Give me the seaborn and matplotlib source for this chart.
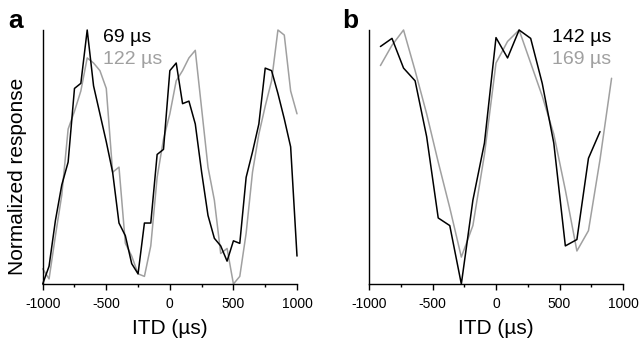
import numpy as np
import pandas as pd
import matplotlib
matplotlib.use("Agg")
import matplotlib.pyplot as plt
import seaborn as sns
from matplotlib.ticker import MultipleLocator

# ---- Panel a data (ITD step 50 us) ----
itd_a = [-1000, -950, -900, -850, -800, -750, -700, -650, -600, -550, -500,
         -450, -400, -350, -300, -250, -200, -150, -100, -50, 0,
         50, 100, 150, 200, 250, 300, 350, 400, 450, 500,
         550, 600, 650, 700, 750, 800, 850, 900, 950, 1000]
resp_a_69 = [0.00, 0.07, 0.25, 0.39, 0.48, 0.77, 0.79, 1.00, 0.78, 0.67, 0.56,
             0.44, 0.24, 0.19, 0.08, 0.04, 0.24, 0.24, 0.51, 0.53, 0.84,
             0.87, 0.71, 0.72, 0.63, 0.44, 0.27, 0.18, 0.15, 0.09, 0.17,
             0.16, 0.42, 0.52, 0.63, 0.85, 0.84, 0.75, 0.65, 0.54, 0.11]
resp_a_122 = [0.06, 0.02, 0.19, 0.35, 0.61, 0.68, 0.76, 0.89, 0.87, 0.84, 0.77,
              0.44, 0.46, 0.16, 0.11, 0.04, 0.03, 0.15, 0.42, 0.57, 0.67,
              0.80, 0.84, 0.89, 0.92, 0.69, 0.46, 0.33, 0.12, 0.14, 0.00,
              0.03, 0.20, 0.44, 0.59, 0.70, 0.80, 1.00, 0.98, 0.76, 0.67]

# ---- Panel b data (ITD step ~91 us) ----
itd_b = [-910, -819, -728, -637, -546, -455, -364, -273, -182, -91, 0,
         91, 182, 273, 364, 455, 546, 637, 728, 819, 910]
resp_b_142 = [0.935, 0.967, 0.85, 0.80, 0.58, 0.26, 0.23, 0.00, 0.33, 0.555, 0.97,
              0.89, 1.00, 0.967, 0.79, 0.555, 0.15, 0.175, 0.495, 0.60, np.nan]
resp_b_169 = [0.86, 0.94, 1.00, 0.84, 0.67, 0.48, 0.30, 0.106, 0.23, 0.51, 0.87,
              0.955, 1.00, 0.87, 0.74, 0.59, 0.37, 0.13, 0.21, 0.49, 0.81]

labels_a = ["69 µs", "122 µs"]
labels_b = ["142 µs", "169 µs"]
xticks = [-1000, -500, 0, 500, 1000]

BLACK = "#000000"
GRAY = "#a0a0a0"

sns.set_theme(style="ticks")
plt.rcParams["font.family"] = ["Liberation Sans", "DejaVu Sans"]
plt.rcParams["text.color"] = "black"
plt.rcParams["xtick.labelcolor"] = "black"

W, H = 641, 344
fig = plt.figure(figsize=(W / 100, H / 100), dpi=100)

def px_axes(l, t, r, b):
    return fig.add_axes([l / W, 1 - b / H, (r - l) / W, (b - t) / H])

ax_a = px_axes(42.7, 30, 297, 284)
ax_b = px_axes(369, 30, 623, 284)

df_a = pd.DataFrame({"itd": itd_a, "r69": resp_a_69, "r122": resp_a_122})
df_b = pd.DataFrame({"itd": itd_b, "r142": resp_b_142, "r169": resp_b_169})

sns.lineplot(data=df_a, x="itd", y="r122", ax=ax_a, color=GRAY, lw=1.1, clip_on=False)
sns.lineplot(data=df_a, x="itd", y="r69", ax=ax_a, color=BLACK, lw=1.1, clip_on=False)
sns.lineplot(data=df_b, x="itd", y="r169", ax=ax_b, color=GRAY, lw=1.1, clip_on=False)
sns.lineplot(data=df_b.dropna(), x="itd", y="r142", ax=ax_b, color=BLACK, lw=1.1, clip_on=False)

for ax in (ax_a, ax_b):
    ax.set_xlim(-1000, 1000)
    ax.set_ylim(0, 1)
    ax.set_xticks(xticks)
    ax.set_xticklabels([str(t) for t in xticks])
    ax.xaxis.set_minor_locator(MultipleLocator(250))
    ax.tick_params(axis="x", which="major", length=4, width=1, colors="black",
                   labelsize=10, pad=5)
    ax.tick_params(axis="x", which="minor", length=2.5, width=1, colors="black")
    ax.set_yticks([])
    ax.set_xlabel("")
    ax.set_ylabel("")
    for s in ("top", "right"):
        ax.spines[s].set_visible(False)
    for s in ("left", "bottom"):
        ax.spines[s].set_color("black")
        ax.spines[s].set_linewidth(1.0)
    ax.patch.set_alpha(0)

def ftext(x, y, s, **kw):
    kw.setdefault("color", "black")
    fig.text(x / W, 1 - y / H, s, **kw)

ftext(170, 328, "ITD (µs)", ha="center", va="center", fontsize=15)
ftext(496, 328, "ITD (µs)", ha="center", va="center", fontsize=15)
ftext(18, 176, "Normalized response", ha="center", va="center", rotation=90, fontsize=15)

ftext(8, 21, "a", ha="left", va="center", fontsize=19, fontweight="bold")
ftext(342, 21, "b", ha="left", va="center", fontsize=19, fontweight="bold")

ftext(103, 37, labels_a[0], ha="left", va="center", fontsize=14, color=BLACK)
ftext(103, 59, labels_a[1], ha="left", va="center", fontsize=14, color=GRAY)
ftext(552, 37, labels_b[0], ha="left", va="center", fontsize=14, color=BLACK)
ftext(552, 59, labels_b[1], ha="left", va="center", fontsize=14, color=GRAY)

fig.savefig("out.png", dpi=100)
